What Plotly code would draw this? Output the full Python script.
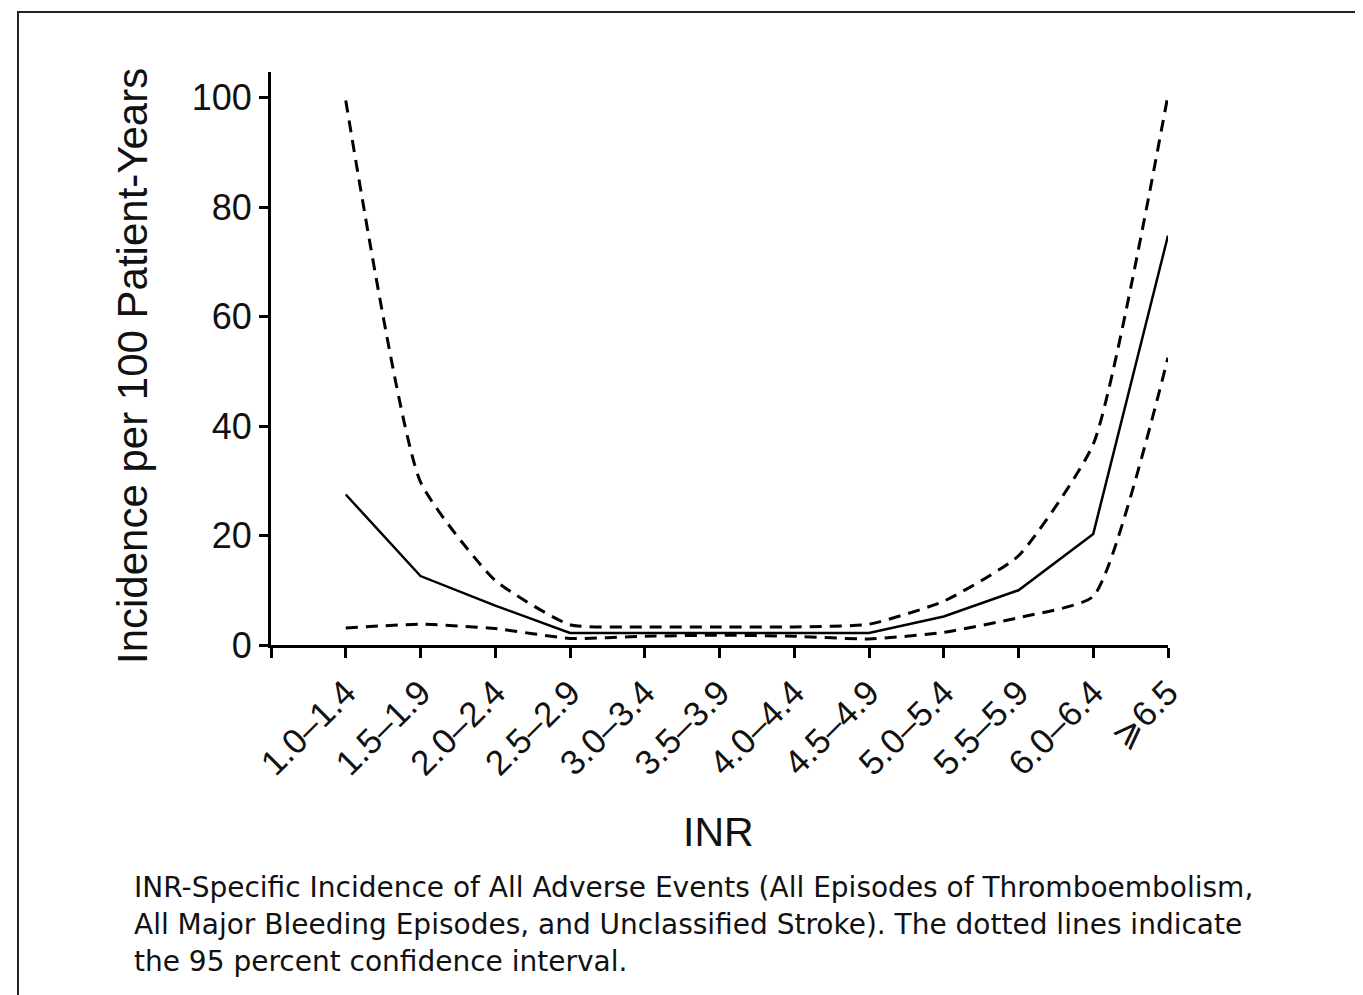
import plotly.graph_objects as go

# ---- data ----
categories = ["1.0–1.4", "1.5–1.9", "2.0–2.4", "2.5–2.9", "3.0–3.4", "3.5–3.9",
              "4.0–4.4", "4.5–4.9", "5.0–5.4", "5.5–5.9", "6.0–6.4", "⩾6.5"]
incidence = [27.5, 12.6, 7.2, 2.2, 2.2, 2.2, 2.2, 2.2, 5.2, 10.0, 20.3, 74.8]
ci_upper = [99.5, 29.8, 11.8, 3.7, 3.3, 3.3, 3.3, 3.8, 8.0, 16.3, 36.7, 100.5]
ci_lower = [3.1, 3.8, 3.0, 1.2, 1.6, 1.8, 1.6, 1.1, 2.3, 5.0, 8.9, 52.5]
y_ticks = [0, 20, 40, 60, 80, 100]

caption_lines = [
    "INR-Specific Incidence of All Adverse Events (All Episodes of Thromboembolism,",
    "All Major Bleeding Episodes, and Unclassified Stroke). The dotted lines indicate",
    "the 95 percent confidence interval.",
]

W, H = 1363, 995
OFF = 8  # page body margin
xpos = list(range(len(categories)))

def px_x(p):
    return (p - OFF) / W

def px_y(p):
    return 1 - (p - OFF) / H

fig = go.Figure()
dash = "12px,8px"
fig.add_trace(go.Scatter(x=xpos, y=ci_upper, mode="lines",
                         line=dict(color="black", width=3, dash=dash, shape="spline", smoothing=0.5)))
fig.add_trace(go.Scatter(x=xpos, y=ci_lower, mode="lines",
                         line=dict(color="black", width=3, dash=dash, shape="spline", smoothing=0.5)))
fig.add_trace(go.Scatter(x=xpos, y=incidence, mode="lines",
                         line=dict(color="black", width=2.5)))

axis_font = dict(family="Liberation Sans, Arial, sans-serif", color="#111111")

fig.update_layout(
    width=W, height=H,
    margin=dict(l=0, r=0, t=0, b=0),
    template="none",
    paper_bgcolor="white", plot_bgcolor="white",
    showlegend=False,
    xaxis=dict(
        domain=[px_x(271), px_x(1168)],
        range=[-1, len(categories) - 1],
        tickmode="array",
        tickvals=[-1] + xpos,
        ticktext=[""] + categories,
        tickangle=-45,
        ticks="outside", ticklen=10, tickwidth=3, tickcolor="black",
        showline=True, linewidth=3, linecolor="black",
        showgrid=False, zeroline=False, automargin=False,
        tickfont=dict(size=35, **axis_font),
    ),
    yaxis=dict(
        domain=[px_y(645), px_y(72)],
        range=[0, 104.7],
        tickmode="array", tickvals=y_ticks,
        ticks="outside", ticklen=9, tickwidth=3, tickcolor="black",
        showline=True, linewidth=3, linecolor="black",
        showgrid=False, zeroline=False, automargin=False,
        tickfont=dict(size=36, **axis_font),
    ),
)

# frame
fig.add_shape(type="rect", xref="paper", yref="paper",
              x0=px_x(18), y0=px_y(1100), x1=px_x(1450), y1=px_y(12),
              line=dict(color="#222222", width=2))

# axis titles
fig.add_annotation(xref="paper", yref="paper", x=px_x(133), y=px_y(366),
                   text="Incidence per 100 Patient-Years", textangle=-90,
                   showarrow=False, xanchor="center", yanchor="middle",
                   font=dict(size=42, **axis_font))
fig.add_annotation(xref="paper", yref="paper", x=px_x(718), y=px_y(832),
                   text="INR", showarrow=False, xanchor="center", yanchor="middle",
                   font=dict(size=41, **axis_font))

# caption
for i, line in enumerate(caption_lines):
    fig.add_annotation(xref="paper", yref="paper", x=px_x(132), y=px_y(887 + 37 * i),
                       text=line, showarrow=False, xanchor="left", yanchor="middle",
                       font=dict(size=28, family="DejaVu Sans, sans-serif", color="#111111"))

fig.write_html("out.html")
